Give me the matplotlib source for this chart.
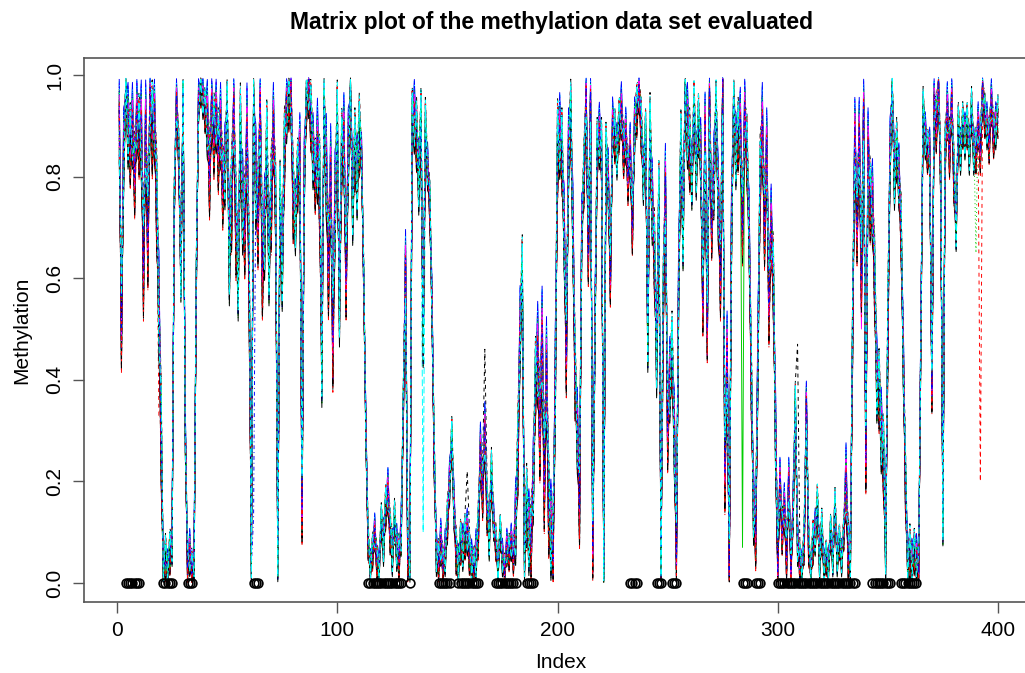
import numpy as np
import matplotlib
matplotlib.use("Agg")
import matplotlib.pyplot as plt

# ---------------- data ----------------
profile = [
    0.92, 0.50, 0.85, 0.98, 0.90, 0.86, 0.90, 0.80, 0.92, 0.88,
    0.90, 0.62, 0.90, 0.68, 0.97, 0.90, 0.93, 0.75, 0.55, 0.30,
    0.02, 0.05, 0.02, 0.06, 0.08, 0.75, 0.95, 0.85, 0.60, 0.97,
    0.30, 0.03, 0.06, 0.02, 0.05, 0.60, 0.95, 0.98, 0.96, 0.93,
    0.92, 0.80, 0.95, 0.88, 0.93, 0.85, 0.90, 0.78, 0.82, 0.95,
    0.65, 0.75, 0.95, 0.70, 0.62, 0.88, 0.75, 0.70, 0.88, 0.60,
    0.04, 0.97, 0.80, 0.72, 0.95, 0.62, 0.70, 0.85, 0.65, 0.75,
    0.90, 0.75, 0.05, 0.75, 0.62, 0.85, 0.95, 0.97, 0.98, 0.75,
    0.72, 0.80, 0.85, 0.15, 0.80, 0.97, 0.99, 0.92, 0.85, 0.80,
    0.85, 0.78, 0.45, 0.95, 0.82, 0.62, 0.80, 0.48, 0.75, 0.90,
    0.55, 0.85, 0.88, 0.60, 0.85, 0.98, 0.75, 0.85, 0.80, 0.88,
    0.85, 0.60, 0.30, 0.08, 0.03, 0.06, 0.10, 0.04, 0.03, 0.12,
    0.08, 0.15, 0.18, 0.10, 0.06, 0.12, 0.07, 0.05, 0.10, 0.35,
    0.62, 0.05, 0.03, 0.90, 0.92, 0.88, 0.80, 0.90, 0.50, 0.88,
    0.82, 0.75, 0.55, 0.25, 0.06, 0.04, 0.08, 0.03, 0.06, 0.12,
    0.20, 0.28, 0.15, 0.06, 0.03, 0.08, 0.07, 0.09, 0.10, 0.06,
    0.03, 0.02, 0.05, 0.10, 0.26, 0.18, 0.30, 0.15, 0.10, 0.21,
    0.12, 0.08, 0.03, 0.10, 0.05, 0.02, 0.07, 0.06, 0.08, 0.05,
    0.12, 0.25, 0.50, 0.60, 0.05, 0.15, 0.10, 0.08, 0.20, 0.40,
    0.45, 0.30, 0.48, 0.20, 0.42, 0.15, 0.10, 0.05, 0.40, 0.85,
    0.88, 0.85, 0.70, 0.45, 0.85, 0.93, 0.70, 0.40, 0.30, 0.15,
    0.70, 0.80, 0.97, 0.65, 0.96, 0.07, 0.50, 0.85, 0.88, 0.85,
    0.02, 0.85, 0.80, 0.60, 0.90, 0.88, 0.85, 0.90, 0.93, 0.85,
    0.88, 0.80, 0.85, 0.70, 0.90, 0.93, 0.98, 0.90, 0.80, 0.88,
    0.50, 0.88, 0.75, 0.65, 0.45, 0.75, 0.05, 0.55, 0.78, 0.30,
    0.40, 0.45, 0.30, 0.05, 0.60, 0.85, 0.70, 0.98, 0.90, 0.85,
    0.80, 0.93, 0.82, 0.90, 0.85, 0.55, 0.90, 0.50, 0.97, 0.70,
    0.80, 0.95, 0.75, 0.60, 0.99, 0.22, 0.45, 0.02, 0.70, 0.96,
    0.85, 0.88, 0.90, 0.70, 0.93, 0.85, 0.70, 0.40, 0.15, 0.10,
    0.45, 0.80, 0.90, 0.70, 0.85, 0.55, 0.70, 0.60, 0.30, 0.02,
    0.20, 0.10, 0.15, 0.05, 0.20, 0.02, 0.15, 0.35, 0.08, 0.04,
    0.02, 0.08, 0.35, 0.08, 0.01, 0.08, 0.10, 0.15, 0.05, 0.10,
    0.03, 0.05, 0.03, 0.10, 0.05, 0.15, 0.05, 0.08, 0.05, 0.10,
    0.20, 0.05, 0.05, 0.50, 0.88, 0.70, 0.88, 0.60, 0.93, 0.25,
    0.85, 0.75, 0.75, 0.60, 0.40, 0.38, 0.30, 0.25, 0.07, 0.50,
    0.85, 0.98, 0.80, 0.85, 0.80, 0.70, 0.45, 0.20, 0.03, 0.05,
    0.04, 0.06, 0.05, 0.02, 0.50, 0.93, 0.88, 0.85, 0.85, 0.38,
    0.95, 0.90, 0.99, 0.80, 0.13, 0.85, 0.93, 0.85, 0.95, 0.80,
    0.70, 0.90, 0.85, 0.90, 0.88, 0.90, 0.85, 0.93, 0.85, 0.85,
    0.90, 0.85, 0.98, 0.92, 0.90, 0.87, 0.95, 0.88, 0.90, 0.92,
]

# half-width of the sample band, one value per block of 10 sites
spread_blocks = [
    0.09, 0.11, 0.05, 0.05, 0.09, 0.11, 0.11, 0.09, 0.08, 0.11,
    0.09, 0.04, 0.05, 0.08, 0.05, 0.05, 0.06, 0.04, 0.09, 0.11,
    0.09, 0.07, 0.06, 0.06, 0.09, 0.09, 0.07, 0.09, 0.08, 0.09,
    0.05, 0.05, 0.04, 0.08, 0.09, 0.07, 0.05, 0.06, 0.05, 0.05,
]

# position of each sample inside the band (even / odd sites)
w_even = [-0.9, 0.4, -0.2, 0.8, -0.6, 0.1, 0.95, -0.4, 0.3, -0.75, 0.6, -0.1,
          0.2, -0.95, 0.7, -0.3, 0.5, -0.55, 0.0, 0.85, -0.65, 0.35, -0.15, 0.65,
          -0.85, 0.15, 0.45, -0.45, 0.9, -0.25, 0.25, -0.7, 0.55, -0.05, 0.75]
w_odd = [0.3, -0.8, 0.6, -0.1, 0.9, -0.5, 0.2, 0.7, -0.9, 0.4, -0.3, 0.85,
         -0.6, 0.1, -0.2, 0.95, -0.7, 0.5, -0.4, 0.0, 0.65, -0.85, 0.8, -0.35,
         0.15, -0.65, 0.45, 0.75, -0.15, 0.55, -0.95, 0.35, -0.45, 0.25, -0.75]

# single-sample outliers visible in the picture: (sample, site, value)
outliers = [(1, 392, 0.20), (1, 19, 0.33), (20, 284, 0.07), (6, 309, 0.47),
            (6, 167, 0.46), (6, 159, 0.22), (2, 2, 0.43), (1, 131, 0.67),
            (12, 184, 0.64), (4, 139, 0.10), (3, 62, 0.13), (2, 390, 0.65),
            (5, 338, 0.50), (8, 276, 0.22)]

# sites marked with circles at y = 0
marked = ([4, 5, 6, 7, 8, 9, 10] + [21, 22, 23, 24, 25] + [32, 33, 34] +
          [62, 63, 64] + list(range(114, 130)) + [133] +
          list(range(146, 152)) + list(range(155, 165)) +
          list(range(172, 182)) + [186, 187, 188, 189] +
          [233, 234, 235, 236] + [245, 246, 247] + [252, 253, 254] +
          [284, 285, 286] + [290, 291, 292] + list(range(300, 336)) +
          list(range(343, 352)) + list(range(356, 364)))

x_ticks = [0, 100, 200, 300, 400]
y_ticks = [0.0, 0.2, 0.4, 0.6, 0.8, 1.0]
y_tick_labels = ["0.0", "0.2", "0.4", "0.6", "0.8", "1.0"]

# ---------------- build the sample matrix ----------------
prof = np.array(profile)
n_sites = len(prof)
sites = np.arange(1, n_sites + 1)
spread = np.repeat(np.array(spread_blocks), 10)[:n_sites]
room_up = np.clip(0.995 - prof, 0.0, None)
room_dn = np.clip(prof, 0.0, None)
n_samp = len(w_even)
M = np.empty((n_sites, n_samp))
for j in range(n_samp):
    w = np.where(sites % 2 == 0, w_even[j], w_odd[j])
    dev = np.where(w > 0, w * np.minimum(spread, room_up),
                   w * np.minimum(spread, room_dn))
    M[:, j] = prof + dev
for j, s, v in outliers:
    M[s - 1, j] = v
M = np.clip(M, 0.0, 0.995)

# ---------------- plot ----------------
W, H = 1025, 673
fig = plt.figure(figsize=(W / 100, H / 100), dpi=100)
L, R, T, B = 84, 1033, 58, 602
ax = fig.add_axes([L / W, 1 - B / H, (R - L) / W, (B - T) / H])
ax.patch.set_visible(False)

cols = ["black", "red", "#00CD00", "blue", "cyan", "magenta"]
ltys = ["-", (0, (4, 4)), (0, (1, 3)), (0, (1, 3, 4, 3)), (0, (7, 3))]
for j in range(n_samp):
    ax.plot(sites, M[:, j], color=cols[j % 6], linestyle=ltys[j % 5],
            lw=0.7)

mk = np.array(marked)
ax.plot(mk, np.zeros(len(mk)), linestyle="none", marker="o", ms=6.3,
        mfc="none", mec="black", mew=1.2)

ax.set_xlim(-15.0, 415.9)
ax.set_ylim(-0.0374, 1.0335)
ax.set_xticks(x_ticks)
ax.set_xticklabels([str(t) for t in x_ticks])
ax.set_yticks(y_ticks)
ax.set_yticklabels(y_tick_labels, rotation=90, va="center")

font = "Liberation Sans"
for lab in ax.get_xticklabels() + ax.get_yticklabels():
    lab.set_fontfamily(font)
    lab.set_fontsize(15)
ax.tick_params(axis="both", direction="out", length=8, width=1,
               color="#555555", pad=6)
for name, sp in ax.spines.items():
    sp.set_color("#555555")
    sp.set_linewidth(1.2)
ax.spines["right"].set_visible(False)

fig.text(551 / W, 1 - 22 / H, "Matrix plot of the methylation data set evaluated",
         ha="center", va="center", fontsize=16.5, fontweight="bold", family=font)
fig.text(561 / W, 1 - 662 / H, "Index", ha="center", va="center",
         fontsize=15, family=font)
fig.text(22 / W, 1 - 330 / H, "Methylation", ha="center", va="center",
         rotation=90, fontsize=15, family=font)

fig.savefig("out.png", dpi=100)
